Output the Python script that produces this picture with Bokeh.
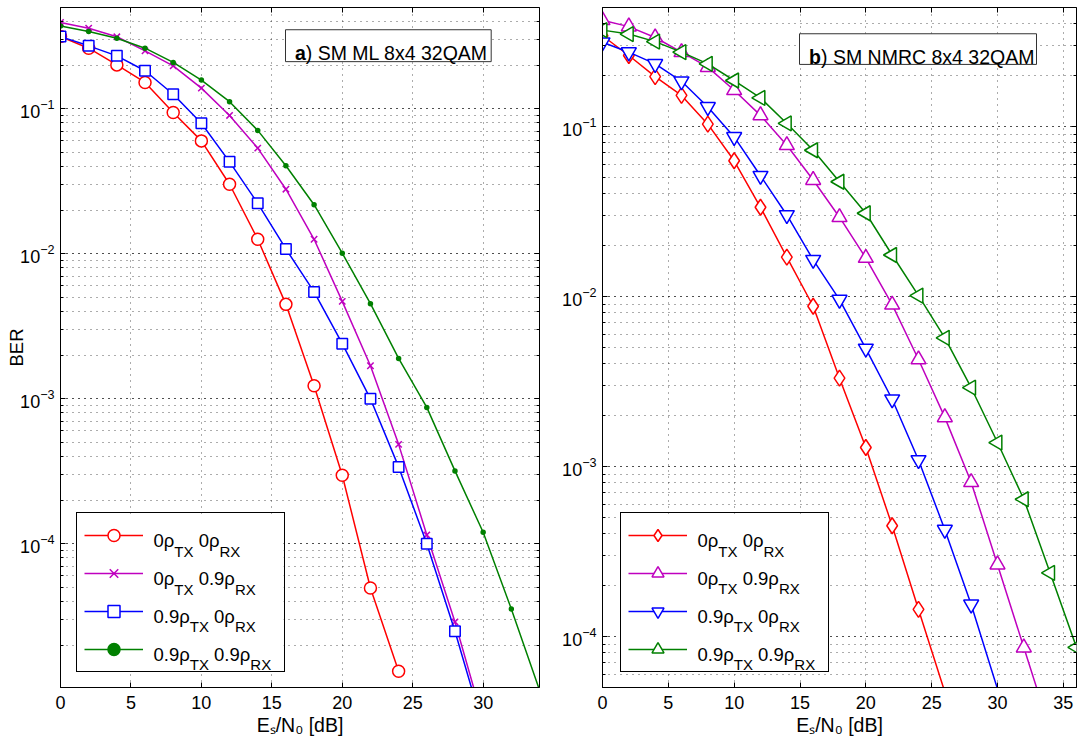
import math
from bokeh.plotting import figure
from bokeh.models import (Range1d, Label, BoxAnnotation, Legend, LegendItem,
                          LogTicker, FixedTicker, LogAxis, LinearAxis,
                          CustomJSTickFormatter)
from bokeh.layouts import row
from bokeh.embed import file_html
from bokeh.resources import INLINE

# ---------------- data ----------------
snr_db = [0, 2, 4, 6, 8, 10, 12, 14, 16, 18, 20, 22, 24, 26, 28, 30, 32, 34, 36]

# a) SM ML 8x4 32QAM
ml_0tx_0rx = [0.315, 0.262, 0.201, 0.152, 0.0944, 0.0601, 0.0302, 0.0126,
              0.00448, 0.00123, 0.000297, 4.95e-5, 1.32e-5]
ml_0tx_09rx = [0.394, 0.360, 0.314, 0.251, 0.198, 0.139, 0.090, 0.0536,
               0.0279, 0.0126, 0.0047, 0.00169, 0.000485, 1.15e-4, 2.89e-5, 6.0e-6]
ml_09tx_0rx = [0.315, 0.272, 0.232, 0.183, 0.126, 0.0796, 0.0431, 0.0223,
               0.0108, 0.00546, 0.0024, 0.001, 0.000339, 1.0e-4, 2.49e-5, 5.4e-6]
ml_09tx_09rx = [0.373, 0.341, 0.307, 0.262, 0.209, 0.158, 0.112, 0.071,
                0.0405, 0.0218, 0.0101, 0.00453, 0.0019, 0.000872, 0.000318,
                1.2e-4, 3.55e-5, 9.8e-6]

# b) SM NMRC 8x4 32QAM
nm_0tx_0rx = [0.341, 0.261, 0.196, 0.152, 0.103, 0.0627, 0.0334, 0.0170,
              0.00874, 0.0033, 0.00129, 0.000447, 0.000144, 4.7e-5]
nm_0tx_09rx = [0.421, 0.386, 0.333, 0.273, 0.223, 0.163, 0.116, 0.0774,
               0.0483, 0.0292, 0.0168, 0.00893, 0.00425, 0.00194, 0.000806,
               0.000264, 8.59e-5, 2.8e-5]
nm_09tx_0rx = [0.312, 0.273, 0.233, 0.184, 0.130, 0.0866, 0.0512, 0.0301,
               0.0164, 0.00956, 0.00493, 0.00248, 0.00109, 0.000424, 0.000154, 4.9e-5]
nm_09tx_09rx = [0.368, 0.349, 0.315, 0.273, 0.233, 0.186, 0.147, 0.104,
                0.0723, 0.0472, 0.0308, 0.0175, 0.0101, 0.0057, 0.0029,
                0.00138, 0.00064, 0.000236, 8.6e-5]

legend_labels = [
    [("0ρ", False), ("TX", True), (" 0ρ", False), ("RX", True)],
    [("0ρ", False), ("TX", True), (" 0.9ρ", False), ("RX", True)],
    [("0.9ρ", False), ("TX", True), (" 0ρ", False), ("RX", True)],
    [("0.9ρ", False), ("TX", True), (" 0.9ρ", False), ("RX", True)],
]
panel_titles = [("a", ") SM ML 8x4 32QAM"), ("b", ") SM NMRC 8x4 32QAM")]
x_label = "Eₛ/N₀ [dB]"
y_label = "BER"
x_ticks = [0, 5, 10, 15, 20, 25, 30, 35]

# ---------------- styling ----------------
FONT = "Liberation Sans"
RED, MAG, BLUE, GREEN = "#ff0000", "#bf00bf", "#0000ff", "#008000"

ADV = {'0': .556, '1': .556, '2': .556, '3': .556, '4': .556, '5': .556,
       '6': .556, '7': .556, '8': .556, '9': .556, '.': .278, ' ': .278,
       'ρ': .57, 'T': .611, 'X': .667, 'R': .722, 'E': .667, 's': .5,
       '/': .278, 'N': .722, '[': .278, ']': .278, 'd': .556, 'B': .667,
       'a': .556, 'b': .611, ')': .333}


def tw(s, size):
    return sum(ADV.get(c, .6) for c in s) * size


class FrameMap:
    def __init__(self, x0, x1, y0, y1, fw, fh):
        self.x0, self.x1 = x0, x1
        self.l0, self.l1 = math.log10(y0), math.log10(y1)
        self.fw, self.fh = fw, fh

    def x(self, px):
        return self.x0 + px / self.fw * (self.x1 - self.x0)

    def y(self, py):
        return 10 ** (self.l0 + (self.fh - py) / self.fh * (self.l1 - self.l0))


def add_rich(p, fm, parts, px, py, size, sub_size, sub_drop):
    x = px
    for txt, sub in parts:
        fs = sub_size if sub else size
        yy = py + (sub_drop if sub else 0)
        core = txt.lstrip(" ")
        x += tw(txt[:len(txt) - len(core)], fs)
        p.add_layout(Label(x=fm.x(x), y=fm.y(yy), text=core, text_font=FONT,
                           text_font_size=f"{fs}px", text_baseline="alphabetic",
                           text_align="left", text_color="black",
                           level="overlay"))
        x += tw(core, fs)


LEG_PAD, GLYPH_W, ITEM_H, SPACING, STANDOFF, LABEL_W = 7, 59, 30, 8, 11, 123
BLANK = CustomJSTickFormatter(code="return ''")


def make_panel(series, x_end, y_start, y_end, borders, legend_off, title,
               box_px, title_xy, with_ylabel):
    left, right, top, bottom = borders
    W, H = 540, 749
    fw, fh = W - left - right, H - top - bottom
    p = figure(width=W, height=H, y_axis_type="log",
               x_range=Range1d(0, x_end), y_range=Range1d(y_start, y_end),
               output_backend="svg", toolbar_location=None,
               min_border_left=left, min_border_right=right,
               min_border_top=top, min_border_bottom=bottom)
    p.background_fill_color = "white"
    p.border_fill_color = "white"
    p.outline_line_color = "black"
    p.outline_line_width = 1
    p.outline_line_alpha = 1

    yt = LogTicker(mantissas=[1], num_minor_ticks=10, desired_num_ticks=6)
    xt = FixedTicker(ticks=x_ticks)
    p.yaxis.ticker = yt
    p.ygrid.ticker = yt
    p.xaxis.ticker = xt
    p.xgrid.ticker = xt
    for g in (p.xgrid, p.ygrid):
        g.grid_line_color = "#000000"
        g.grid_line_alpha = 0.65
        g.grid_line_dash = "1 5"
        g.grid_line_width = 1
    p.ygrid.minor_grid_line_color = "#000000"
    p.ygrid.minor_grid_line_alpha = 0.65
    p.ygrid.minor_grid_line_dash = "1 5"

    for ax in (p.xaxis, p.yaxis):
        ax.axis_line_color = "black"
        ax.major_tick_line_color = "black"
        ax.major_tick_in = 5
        ax.major_tick_out = 0
        ax.major_label_text_font = FONT
        ax.major_label_text_font_size = "18px"
        ax.major_label_text_color = "black"
        ax.axis_label_text_font = FONT
        ax.axis_label_text_font_style = "normal"
        ax.axis_label_text_color = "black"
    p.xaxis.minor_tick_line_color = None
    p.xaxis.major_label_standoff = 8
    p.xaxis.axis_label = x_label
    p.xaxis.axis_label_text_font_size = "19.5px"
    p.xaxis.axis_label_standoff = 2
    p.yaxis.minor_tick_line_color = "black"
    p.yaxis.minor_tick_in = 3
    p.yaxis.minor_tick_out = 0
    p.yaxis.major_label_standoff = 6
    if with_ylabel:
        p.yaxis.axis_label = y_label
        p.yaxis.axis_label_text_font_size = "18.5px"
        p.yaxis.axis_label_standoff = -10

    # box ticks on the opposite sides (no labels)
    p.add_layout(LogAxis(ticker=yt, formatter=BLANK, axis_line_color=None,
                         major_tick_in=5, major_tick_out=0,
                         minor_tick_in=3, minor_tick_out=0,
                         major_label_standoff=0,
                         major_label_text_font_size="1px"), "right")
    p.add_layout(LinearAxis(ticker=xt, formatter=BLANK, axis_line_color=None,
                            major_tick_in=5, major_tick_out=0,
                            minor_tick_line_color=None,
                            major_label_standoff=0,
                            major_label_text_font_size="1px"), "above")

    fm = FrameMap(0, x_end, y_start, y_end, fw, fh)

    leg_w = 2 * LEG_PAD + GLYPH_W + STANDOFF + LABEL_W
    leg_h = 2 * LEG_PAD + 4 * ITEM_H + 3 * SPACING
    leg_top = fh - legend_off[1] - leg_h
    p.add_layout(BoxAnnotation(left=fm.x(legend_off[0]),
                               right=fm.x(legend_off[0] + leg_w),
                               top=fm.y(leg_top), bottom=fm.y(fh - legend_off[1]),
                               fill_color="white", fill_alpha=1,
                               line_color=None, level="underlay"))

    items = []
    for (vals, color, marker, size, angle, fill), lab in zip(series, legend_labels):
        xs = snr_db[:len(vals)]
        lr = p.line(xs, vals, line_color=color, line_width=1.5)
        mx = [x for x, v in zip(xs, vals) if v >= y_start]
        my = [v for v in vals if v >= y_start]
        sr = p.scatter(mx, my, marker=marker, size=size, angle=angle,
                       line_color=color, line_width=1.5,
                       fill_color=(color if fill else "white"))
        items.append(LegendItem(label=" ", renderers=[lr, sr]))

    leg = Legend(items=items, location=legend_off, padding=LEG_PAD,
                 spacing=SPACING, glyph_width=GLYPH_W, glyph_height=ITEM_H,
                 label_height=ITEM_H, label_width=LABEL_W,
                 label_standoff=STANDOFF, margin=0,
                 border_line_color="black", border_line_width=1,
                 border_line_alpha=1,
                 background_fill_color="white", background_fill_alpha=0,
                 label_text_font_size="18px")
    p.add_layout(leg)

    tx = legend_off[0] + LEG_PAD + GLYPH_W + STANDOFF
    for i, parts in enumerate(legend_labels):
        cy = leg_top + LEG_PAD + ITEM_H / 2 + i * (ITEM_H + SPACING)
        add_rich(p, fm, parts, tx, cy + 3.6, 18.5, 15, 10.7)

    bl, br, bt, bb = box_px
    p.add_layout(BoxAnnotation(left=fm.x(bl), right=fm.x(br),
                               top=fm.y(bt), bottom=fm.y(bb),
                               fill_color="white", fill_alpha=1,
                               line_color="#333333", line_alpha=1,
                               line_width=1))
    bold, rest = title
    p.add_layout(Label(x=fm.x(title_xy[0]), y=fm.y(title_xy[1]), text=bold,
                       text_font=FONT, text_font_style="bold",
                       text_font_size="19.5px", text_baseline="alphabetic",
                       text_color="black", level="overlay"))
    p.add_layout(Label(x=fm.x(title_xy[0] + tw(bold, 19.5)), y=fm.y(title_xy[1]),
                       text=rest, text_font=FONT, text_font_size="19.5px",
                       text_baseline="alphabetic", text_color="black",
                       level="overlay"))
    return p


series_a = [
    (ml_0tx_0rx, RED, "circle", 12, 0, False),
    (ml_0tx_09rx, MAG, "x", 9, 0, False),
    (ml_09tx_0rx, BLUE, "square", 10.5, 0, False),
    (ml_09tx_09rx, GREEN, "circle", 4, 0, True),
]
series_b = [
    (nm_0tx_0rx, RED, "diamond", 16, 0, False),
    (nm_0tx_09rx, MAG, "triangle", 15, 0, False),
    (nm_09tx_0rx, BLUE, "inverted_triangle", 15, 0, False),
    (nm_09tx_09rx, GREEN, "triangle", 15, math.pi / 2, False),
]

pa = make_panel(series_a, 34, 1.02e-5, 0.5, (60, 1, 5, 62), (16, 15),
                panel_titles[0], (225, 430.7, 22.3, 54.3), (234.4, 45.7), True)
pb = make_panel(series_b, 36, 5e-5, 0.5, (62, 4, 7, 61), (18, 15),
                panel_titles[1], (197, 434, 26.3, 57), (206.6, 49.7), False)

layout = row(pa, pb)
open("out.html", "w").write(file_html(layout, INLINE))
